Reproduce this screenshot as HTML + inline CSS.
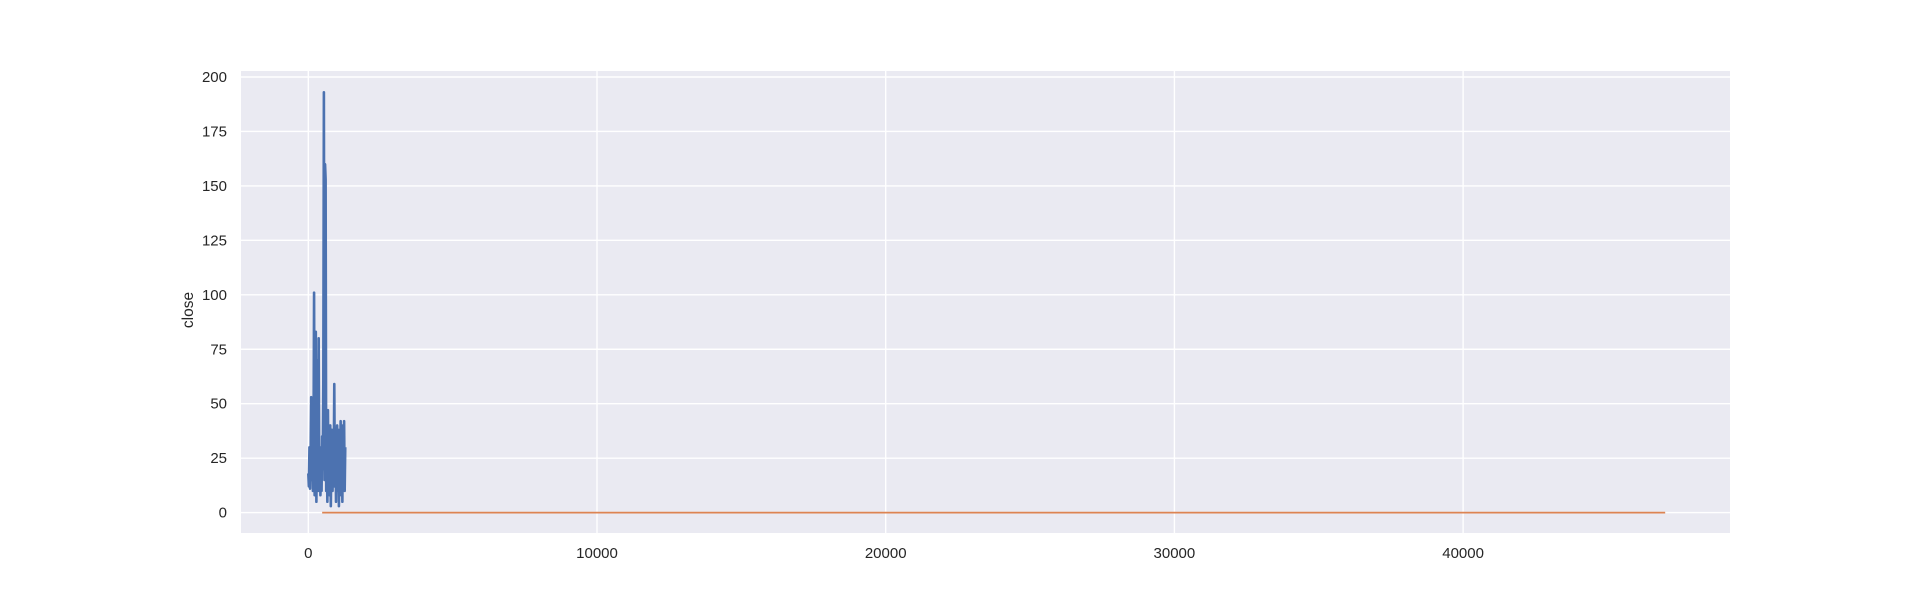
<!DOCTYPE html>
<html><head><meta charset="utf-8"><style>
html,body{margin:0;padding:0;background:#fff;}
svg{display:block;font-family:"Liberation Sans",Arial,sans-serif;}
</style></head><body>
<svg id="chart" width="1923" height="600"></svg>
<script>
const xTicks=[0,10000,20000,30000,40000];
const yTicks=[0,25,50,75,100,125,150,175,200];
const blueX=[0,20,40,60,80,100,120,140,160,180,200,220,240,260,280,300,320,340,360,380,400,420,440,460,480,500,520,540,560,580,600,620,640,660,680,700,720,740,760,780,800,820,840,860,880,900,920,940,960,980,1000,1020,1040,1060,1080,1100,1120,1140,1160,1180,1200,1220,1240,1260,1280];
const blueY=[18,12,30,11,25,53,15,48,10,30,101,8,60,83,5,40,70,10,80,12,30,8,25,10,35,20,60,193,15,160,153,10,40,5,47,10,30,8,40,3,25,38,10,30,20,59,12,35,5,28,40,10,38,3,30,20,42,8,35,5,40,15,42,10,30];
const orangeX=[480,47000];
const orangeY=[0,0];
const NS='http://www.w3.org/2000/svg';
const svg=document.getElementById('chart');
const L=241,R=1730,T=71,B=533;
const sx=v=>308.3+v*(597-308.3)/10000;
const sy=v=>512.6-v*(512.6-77)/200;
function mk(t,a){const e=document.createElementNS(NS,t);for(const k in a)e.setAttribute(k,a[k]);svg.appendChild(e);return e;}
const bg=mk('rect',{x:L,y:T,width:R-L,height:B-T,fill:'#eaeaf2'});


xTicks.forEach(v=>{
 const g=mk('line',{x1:sx(v),x2:sx(v),y1:T,y2:B,stroke:'#fff','stroke-width':1.4});
 
 
 const t=mk('text',{x:sx(v),y:558,'text-anchor':'middle','font-size':15,fill:'#262626'});
 t.textContent=v;
 
 
});
yTicks.forEach(v=>{
 const g=mk('line',{x1:L,x2:R,y1:sy(v),y2:sy(v),stroke:'#fff','stroke-width':1.4});
 
 
 const t=mk('text',{x:227,y:sy(v)+5,'text-anchor':'end','font-size':15,fill:'#262626'});
 t.textContent=v;
 
 
});
const yl=mk('text',{x:0,y:0,transform:'translate(193,310) rotate(-90)','text-anchor':'middle','font-size':15.5,fill:'#262626'});
yl.textContent='close';


const bp=mk('polyline',{points:blueX.map((x,i)=>sx(x)+','+sy(blueY[i])).join(' '),fill:'none',stroke:'#4c72b0','stroke-width':2.6,'stroke-linejoin':'round'});


const op=mk('polyline',{points:orangeX.map((x,i)=>sx(x)+','+sy(orangeY[i])).join(' '),fill:'none',stroke:'#dd8452','stroke-width':1.8});


</script>
</body></html>
